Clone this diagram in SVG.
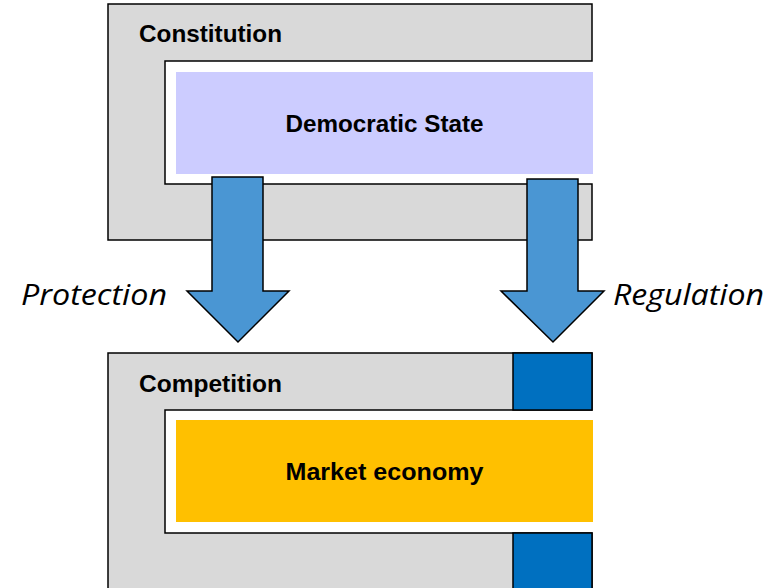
<svg xmlns="http://www.w3.org/2000/svg" width="781" height="588" viewBox="0 0 781 588">
<style>
.frame{fill:#D9D9D9;stroke:#000;stroke-width:1.5}
.bold{font-family:"Liberation Sans",Arial,sans-serif;font-weight:bold;font-size:24px;fill:#000}
.ital{font-family:"Open Sans","Liberation Sans",sans-serif;font-style:italic;font-size:30px;fill:#000}
.arrow{fill:#4A96D3;stroke:#000;stroke-width:1.5;stroke-linejoin:miter}
.sq{fill:#0070C0;stroke:#000;stroke-width:1.5}
</style>
<rect width="781" height="588" fill="#fff"/>
<g id="constitution">
<path class="frame" d="M108,4 H592 V61 H165 V184 H592 V240 H108 Z"/>
<text class="bold" x="139" y="42" textLength="143" lengthAdjust="spacingAndGlyphs">Constitution</text>
</g>
<g id="democratic-state">
<rect x="176" y="72" width="417" height="102" fill="#CCCCFF"/>
<text class="bold" x="384.5" y="132" text-anchor="middle" textLength="198" lengthAdjust="spacingAndGlyphs">Democratic State</text>
</g>
<g id="competition">
<path class="frame" d="M108,353 H592 V410 H165 V533 H592 V600 H108 Z"/>
<rect class="sq" x="513" y="353" width="79" height="57"/>
<rect class="sq" x="513" y="533" width="79" height="70"/>
<text class="bold" x="139" y="392" textLength="143" lengthAdjust="spacingAndGlyphs">Competition</text>
</g>
<g id="market-economy">
<rect x="176" y="420" width="417" height="102" fill="#FFC000"/>
<text class="bold" x="384.5" y="480" text-anchor="middle" textLength="198" lengthAdjust="spacingAndGlyphs">Market economy</text>
</g>
<g id="connectors">
<polygon class="arrow" points="212,177 263,177 263,291 289,291 238,342 187,291 212,291"/>
<polygon class="arrow" points="527,179 578,179 578,291 604,291 553,342 501,291 527,291"/>
</g>
<g id="labels">
<text class="ital" x="21" y="305" textLength="146" lengthAdjust="spacingAndGlyphs">Protection</text>
<text class="ital" x="613" y="305" textLength="151" lengthAdjust="spacingAndGlyphs">Regulation</text>
</g>
</svg>
